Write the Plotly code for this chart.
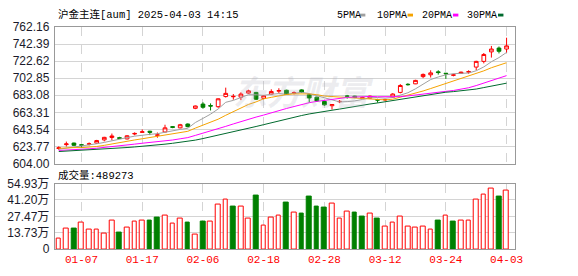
import numpy as np
import pandas as pd
import plotly.graph_objects as go

# ---------------- data ----------------
title_text = "沪金主连[aum] 2025-04-03 14:15"

# estimated December closes that seed the moving averages
prior_closes = [612, 615, 618, 620, 616, 613, 611, 614, 617, 619,
                621, 618, 615, 613, 616, 619, 620, 617, 615, 614,
                620, 624, 625, 623, 622, 621, 619, 620, 621]

opens = [621.5, 626.0, 627.8, 625.8, 626.4, 627.8, 631.5, 634.2, 634.0, 632.6,
         638.3, 640.2, 641.5, 636.8, 640.6, 646.8, 645.4, 649.8, 668.0, 672.9,
         671.2, 669.9, 681.6, 681.4, 680.9, 685.6, 686.4, 679.5, 684.5, 687.8,
         688.9, 685.2, 689.3, 683.8, 680.9, 676.0, 671.0, 675.6, 682.3, 682.0,
         679.2, 679.8, 678.0, 677.6, 680.9, 686.4, 695.8, 696.3, 704.7, 706.8,
         710.2, 708.6, 706.2, 708.3, 709.9, 715.7, 722.3, 733.3, 737.7, 736.6]
highs = [624.0, 629.5, 628.3, 626.5, 628.5, 631.5, 635.0, 638.8, 635.0, 637.0,
         640.2, 643.5, 642.0, 640.0, 649.0, 647.5, 650.0, 650.5, 671.2, 675.0,
         673.7, 679.5, 691.9, 684.5, 686.5, 689.5, 687.0, 683.5, 690.0, 691.2,
         689.5, 687.5, 690.0, 684.5, 681.5, 676.5, 673.0, 677.5, 683.5, 682.5,
         681.5, 682.8, 679.0, 679.0, 685.5, 696.0, 697.0, 701.0, 708.3, 712.0,
         712.0, 708.9, 708.0, 710.5, 712.0, 723.0, 732.0, 740.2, 739.5, 749.7]
lows = [620.0, 623.8, 624.5, 622.3, 625.0, 627.0, 629.8, 631.0, 632.5, 632.0,
        636.8, 639.8, 637.0, 634.0, 640.0, 645.0, 644.8, 646.0, 667.0, 667.5,
        665.5, 668.5, 680.5, 678.0, 677.5, 685.0, 677.5, 678.5, 684.0, 685.6,
        683.5, 684.0, 686.0, 674.6, 675.5, 671.0, 666.6, 674.0, 679.2, 679.8,
        678.8, 679.0, 674.5, 676.8, 680.0, 685.3, 694.3, 696.0, 702.9, 703.6,
        707.0, 702.1, 705.0, 708.0, 708.0, 712.0, 720.0, 726.7, 731.5, 732.2]
closes = [622.3, 626.8, 625.2, 625.4, 626.9, 630.7, 634.4, 636.0, 633.3, 636.2,
          638.9, 640.8, 640.2, 637.2, 645.4, 646.0, 649.0, 646.8, 670.7, 669.2,
          670.6, 679.0, 685.3, 681.8, 684.5, 688.2, 678.5, 682.5, 687.5, 688.6,
          684.0, 686.0, 686.5, 680.0, 676.5, 672.0, 672.4, 676.0, 681.9, 680.5,
          680.4, 682.0, 677.5, 678.2, 684.5, 694.4, 695.4, 700.3, 707.2, 709.0,
          709.4, 708.0, 706.7, 709.8, 710.4, 722.3, 730.3, 736.6, 734.0, 740.2]

volumes = [87600, 173000, 173000, 220000, 165000, 165000, 133000, 236000, 141000, 181000,
           228000, 236000, 236000, 263000, 284000, 212000, 252000, 220000, 119000, 228000,
           228000, 372000, 412000, 358000, 356000, 252000, 446000, 196000, 263000, 284000,
           390000, 308000, 295000, 438000, 358000, 350000, 380000, 252000, 316000, 302000,
           271000, 300000, 255000, 191000, 220000, 276000, 191000, 181000, 191000, 165000,
           239000, 284000, 231000, 236000, 236000, 412000, 459000, 507000, 438000, 489273]
# 1 = red (up) volume bar, 0 = green (down) volume bar
vol_up = [1, 1, 0, 1, 1, 1, 1, 1, 0, 1, 1, 1, 0, 0, 1, 1, 1, 0, 1, 0,
          1, 1, 1, 0, 1, 1, 0, 1, 1, 1, 0, 1, 0, 0, 0, 0, 1, 1, 1, 0,
          0, 1, 0, 1, 1, 1, 1, 1, 1, 1, 0, 1, 0, 1, 1, 1, 1, 1, 0, 1]

tick_idx = [3, 11, 19, 27, 35, 43, 51, 59]
tick_labels = ["01-07", "01-17", "02-06", "02-18", "02-28", "03-12", "03-24", "04-03"]

price_min, price_max = 604.00, 762.16
vol_max = 549320

ma_periods = [5, 10, 20, 30]
ma_names = ["5PMA", "10PMA", "20PMA", "30PMA"]
ma_colors = ["#a0a0a0", "#f5a300", "#ff00ff", "#006a2e"]

# ---------------- build ----------------
W, H = 578, 276
n = len(closes)
x = list(range(n))
allc = pd.Series(prior_closes + closes, dtype=float)
np_ = len(prior_closes)

L, R = 55.5, 522.3
main_top, main_bot = 21, 165
vol_top, vol_bot = 186, 255


def px(v):
    return v / W


def py(v):
    return 1 - v / H


RED = "#ff0000"
GREEN = "#008000"

fig = go.Figure()

fig.add_trace(go.Candlestick(
    x=x, open=opens, high=highs, low=lows, close=closes,
    increasing=dict(line=dict(color=RED, width=1), fillcolor="#ffffff"),
    decreasing=dict(line=dict(color=GREEN, width=1), fillcolor=GREEN),
    whiskerwidth=0, hoverinfo="skip", showlegend=False,
    xaxis="x", yaxis="y"))

for p, nm, c in zip(ma_periods, ma_names, ma_colors):
    ma = allc.rolling(p, min_periods=1).mean().iloc[np_:].tolist()
    fig.add_trace(go.Scatter(x=x, y=ma, mode="lines", name=nm,
                             line=dict(color=c, width=1), hoverinfo="skip",
                             showlegend=False, xaxis="x", yaxis="y"))

fig.add_trace(go.Bar(
    x=x, y=volumes, width=0.62,
    marker=dict(color=["#ffffff" if u else GREEN for u in vol_up],
                line=dict(color=[RED if u else GREEN for u in vol_up], width=1)),
    hoverinfo="skip", showlegend=False, xaxis="x2", yaxis="y2"))

ptick = np.linspace(price_min, price_max, 9)
vtick = np.linspace(0, vol_max, 5)
vtext = ["0"] + ["%.2f万" % (v / 10000) for v in vtick[1:]]

xr = [-0.53, 60.12]
grid = "#d4d4d4"
border = "#999999"
lab_font = dict(family="Liberation Sans, Arial, Noto Sans CJK SC", size=12, color="#1a1a2a")

common_x = dict(domain=[px(L), px(R)], range=xr, tickvals=tick_idx,
                showgrid=True, gridcolor=grid, griddash="dash", gridwidth=1,
                showline=True, mirror=True, linecolor=border, linewidth=1,
                zeroline=False, ticks="", fixedrange=True)

fig.update_layout(
    width=W, height=H, margin=dict(l=0, r=0, t=0, b=0),
    paper_bgcolor="white", plot_bgcolor="white",
    xaxis=dict(**common_x, anchor="y", showticklabels=False,
               rangeslider=dict(visible=False)),
    yaxis=dict(domain=[py(main_bot), py(main_top)], range=[price_min, price_max],
               tickvals=ptick, ticktext=["%.2f" % v for v in ptick],
               showgrid=True, gridcolor=grid, showline=True, mirror=True,
               linecolor=border, zeroline=False, ticks="", tickfont=lab_font,
               ticklabelstandoff=2),
    xaxis2=dict(**common_x, anchor="y2", matches="x", ticktext=tick_labels,
                tickfont=dict(family="Liberation Mono, monospace", size=11, color=RED)),
    yaxis2=dict(domain=[py(vol_bot), py(vol_top)], range=[0, vol_max],
                tickvals=vtick, ticktext=vtext, showgrid=True, gridcolor=grid,
                showline=True, mirror=True, linecolor=border, zeroline=False,
                ticks="", tickfont=lab_font, ticklabelstandoff=2),
    bargap=0, showlegend=False,
)

mono = "Liberation Mono, Noto Sans CJK SC"
ann = [
    dict(text=title_text, x=px(57), y=py(8), xanchor="left", yanchor="middle",
         font=dict(family=mono, size=10.5, color="#000")),
    dict(text="成交量:%d" % volumes[-1], x=px(57), y=py(177), xanchor="left",
         yanchor="middle", font=dict(family=mono, size=10.5, color="#000")),
    dict(text="<b><i>东方财富</i></b>", x=px(308), y=py(88), xanchor="center",
         yanchor="middle", font=dict(family="Noto Sans CJK SC", size=34,
                                      color="rgba(170,170,185,0.22)")),
]
leg_x = [339.3, 380.7, 426, 471.7]
sq_x = [365, 413.3, 459.3, 505]
shapes = []
for nm, c, lx, sx in zip(ma_names, ma_colors, leg_x, sq_x):
    ann.append(dict(text=nm, x=px(lx), y=py(8.5), xanchor="left", yanchor="middle",
                    font=dict(family=mono, size=10, color="#000")))
    shapes.append(dict(type="rect", xref="paper", yref="paper",
                       x0=px(sx), x1=px(sx + 5.5), y0=py(10), y1=py(7),
                       fillcolor=c, line=dict(width=0)))
for a in ann:
    a.update(xref="paper", yref="paper", showarrow=False)
fig.update_layout(annotations=ann, shapes=shapes)

fig.write_html("out.html")
